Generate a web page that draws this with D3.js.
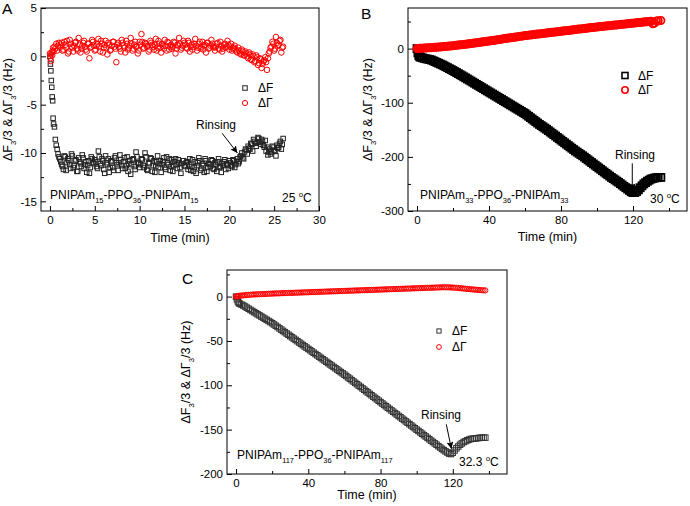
<!DOCTYPE html>
<html><head><meta charset="utf-8">
<script src="https://cdn.jsdelivr.net/npm/d3@7"></script>
<style>
body{margin:0;background:#fff}
svg{display:block}
text{font-family:"Liberation Sans",Arial,Helvetica,sans-serif;fill:#000}
</style>
</head><body>
<svg id="chart" width="690" height="506"></svg>
<script>
// ---------------- DATA ----------------
// Panel A: PNIPAm15-PPO36-PNIPAm15, 25 °C  (two interleaved sampling sets)
const aTime = [0,0.05,0.1,0.15,0.2,0.25,0.3,0.35,0.4,0.5,0.6,0.7,0.8,0.9,1.0,
 1.2,1.4,1.6,1.8,2,2.2,2.4,2.6,2.8,3,3.2,3.4,3.6,3.8,4,4.2,4.4,4.6,4.8,5,
 5.2,5.4,5.6,5.8,6,6.2,6.4,6.6,6.8,7,7.2,7.4,7.6,7.8,8,8.2,8.4,8.6,8.8,9,9.2,9.4,9.6,9.8,10,
 10.2,10.4,10.6,10.8,11,11.2,11.4,11.6,11.8,12,12.2,12.4,12.6,12.8,13,13.2,13.4,13.6,13.8,14,14.2,14.4,14.6,14.8,15,
 15.2,15.4,15.6,15.8,16,16.2,16.4,16.6,16.8,17,17.2,17.4,17.6,17.8,18,18.2,18.4,18.6,18.8,19,19.2,19.4,19.6,19.8,20,
 20.2,20.4,20.6,20.8,21,21.2,21.4,21.6,21.8,22,
 22.2,22.4,22.6,22.8,23,23.2,23.4,23.6,23.8,24,
 24.2,24.4,24.6,24.8,25,25.2,25.4,25.6,25.8,26];
const aF = [0,-0.8,-1.5,-2.5,-3.2,-4.2,-4.6,-6.4,-7.0,-7.3,-8.6,-9.2,-9.6,-10.1,-10.4,
 -10.9,-11.4,-10.3,-11.8,-10.6,-11.2,-10.1,-11.5,-10.8,-11.9,-10.5,-11.1,-10.2,-11.6,-10.9,-11.3,-12.1,-10.4,-11.0,-10.7,
 -11.4,-9.8,-11.1,-10.6,-11.7,-10.3,-11.2,-12.0,-10.8,-11.5,-10.5,-11.0,-11.8,-10.2,-11.3,-10.9,-11.6,-10.4,-11.1,-12.2,-10.7,-11.4,-9.9,-11.0,-11.5,
 -10.6,-11.3,-10.0,-11.7,-11.0,-10.5,-11.9,-10.8,-11.4,-10.3,-11.1,-12.0,-10.9,-11.5,-10.4,-11.2,-11.8,-10.7,-11.3,-10.6,-11.6,-11.0,-12.1,-10.8,-11.3,
 -11.0,-11.7,-10.6,-11.4,-11.9,-10.9,-11.3,-10.5,-11.8,-11.1,-12.0,-10.8,-11.5,-11.2,-10.7,-11.6,-11.0,-11.9,-10.6,-11.4,-11.1,-10.9,-11.7,-11.2,-10.8,
 -11.3,-10.7,-11.5,-10.9,-11.1,-10.4,-10.0,-10.6,-9.6,-10.1,
 -9.5,-9.0,-9.8,-8.8,-9.3,-8.4,-8.9,-8.6,-9.2,-8.7,
 -9.4,-9.9,-10.1,-9.3,-9.7,-10.3,-9.5,-9.0,-9.6,-8.5];
const aG = [0.3,-0.2,-0.5,0.2,0.4,0.1,0.6,0.9,0.5,1.0,0.8,1.3,0.6,1.1,1.4,
 1.2,0.6,1.5,0.9,0.3,1.7,1.0,0.5,1.4,0.8,1.9,0.4,1.1,1.6,0.7,1.3,-0.2,1.0,1.5,0.6,
 1.1,1.8,0.5,1.3,0.9,1.6,0.2,1.2,0.7,1.5,1.0,-0.6,1.4,0.8,1.7,1.1,0.4,1.3,0.9,1.9,0.6,1.2,1.0,0.3,1.5,
 2.3,0.8,1.4,1.0,0.5,1.6,1.2,0.7,1.8,0.9,1.3,0.4,1.1,1.7,0.6,1.4,1.0,0.8,1.5,0.3,1.2,1.9,0.7,1.1,1.4,
 0.9,1.6,0.5,1.2,1.0,1.8,0.6,1.3,0.8,1.5,1.1,0.4,1.4,0.9,1.7,1.0,0.6,1.3,0.8,1.5,0.5,1.2,0.9,1.6,0.7,
 1.3,0.8,1.1,0.5,0.9,0.3,0.7,0.1,0.5,0.0,
 0.4,-0.3,0.2,-0.6,0.1,-0.9,-0.2,-1.2,-0.5,-0.1,
 -1.4,0.3,0.9,1.5,0.6,2.0,1.1,1.6,0.4,1.0];
const aTime2 = [1.1,1.3,1.5,1.7,1.9,2.1,2.3,2.5,2.7,2.9,3.1,3.3,3.5,3.7,3.9,4.1,4.3,4.5,4.7,4.9,
 5.1,5.3,5.5,5.7,5.9,6.1,6.3,6.5,6.7,6.9,7.1,7.3,7.5,7.7,7.9,8.1,8.3,8.5,8.7,8.9,9.1,9.3,9.5,9.7,9.9,
 10.1,10.3,10.5,10.7,10.9,11.1,11.3,11.5,11.7,11.9,12.1,12.3,12.5,12.7,12.9,13.1,13.3,13.5,13.7,13.9,14.1,14.3,14.5,14.7,14.9,
 15.1,15.3,15.5,15.7,15.9,16.1,16.3,16.5,16.7,16.9,17.1,17.3,17.5,17.7,17.9,18.1,18.3,18.5,18.7,18.9,19.1,19.3,19.5,19.7,19.9,
 20.1,20.3,20.5,20.7,20.9,21.1,21.3,21.5,21.7,21.9,
 22.1,22.3,22.5,22.7,22.9,23.1,23.3,23.5,23.7,23.9,
 24.1,24.3,24.5,24.7,24.9,25.1,25.3,25.5,25.7,25.9];
const aF2 = [-10.6,-11.2,-11.7,-10.4,-11.0,-10.8,-11.6,-10.3,-11.3,-10.7,-11.9,-10.9,-11.4,-10.5,-11.2,-12.0,-10.8,-11.5,-10.6,-11.1,
 -10.9,-11.6,-10.4,-11.3,-10.8,-12.1,-11.0,-10.6,-11.5,-10.9,-11.8,-10.3,-11.2,-11.0,-10.7,-11.6,-10.5,-11.3,-11.9,-10.8,-11.2,-10.6,-11.7,-10.4,-11.1,
 -11.2,-10.7,-11.5,-10.4,-11.8,-11.1,-10.6,-11.3,-12.0,-10.9,-11.5,-10.8,-11.2,-10.5,-11.7,-11.0,-10.6,-11.4,-11.9,-10.9,-11.2,-10.7,-11.5,-11.1,-10.8,
 -11.4,-10.9,-11.2,-11.8,-10.7,-11.5,-12.1,-11.0,-10.8,-11.6,-11.3,-10.6,-11.9,-11.1,-11.4,-10.8,-11.7,-11.2,-10.9,-11.5,-12.0,-11.3,-10.7,-11.1,-11.6,
 -11.0,-11.4,-10.8,-11.2,-10.6,-10.9,-10.3,-10.5,-9.9,-9.7,
 -9.3,-9.6,-9.1,-8.6,-9.0,-8.9,-8.5,-9.1,-8.8,-9.4,
 -9.8,-10.2,-9.6,-9.9,-9.4,-9.8,-9.2,-9.4,-8.8,-9.1];
const aG2 = [0.9,1.4,0.7,1.2,1.6,0.5,1.3,0.9,1.1,1.5,0.6,1.2,0.8,1.4,1.0,0.5,1.3,0.9,1.7,1.1,
 0.7,1.3,1.0,1.6,0.4,1.2,0.9,1.4,0.6,1.1,1.5,0.8,1.2,1.0,0.5,1.4,0.9,1.6,0.7,1.1,1.3,0.8,1.5,1.0,0.6,
 1.2,1.5,0.9,1.3,1.1,0.7,1.4,1.0,1.2,0.6,1.6,0.9,1.3,0.8,1.1,1.5,0.7,1.2,1.0,1.4,0.8,1.1,1.3,0.9,1.6,
 1.2,0.8,1.4,1.0,0.7,1.3,1.1,0.9,1.5,1.0,0.7,1.2,1.4,0.8,1.1,1.3,0.9,1.0,1.4,0.7,1.1,0.8,1.3,1.0,1.2,
 1.0,0.6,0.9,0.7,0.4,0.6,0.2,0.5,0.1,0.3,
 -0.2,0.2,-0.4,0.0,-0.5,-0.1,-0.7,-0.3,-0.8,-0.4,
 -0.6,-0.2,0.5,1.0,1.3,0.8,1.4,1.2,1.7,0.9];
const aXMajor = [0,5,10,15,20,25,30];
const aXMinor = [2.5,7.5,12.5,17.5,22.5,27.5];
const aYMajor = [-15,-10,-5,0,5];
const aYMinor = [-12.5,-7.5,-2.5,2.5];

// Panel B: PNIPAm33-PPO36-PNIPAm33, 30 °C
const bTime = [0,0.5,1,1.5,2,3,4,6,8,10,12,14,16,18,20,22,24,26,28,30,32,34,36,38,40,
 42,44,46,48,50,52,54,56,58,60,62,64,66,68,70,72,74,76,78,80,82,84,86,88,90,92,94,96,98,100,
 102,104,106,108,110,112,114,116,118,120,122,124,126,128,130,132,134,135.5];
const bF = [0,-8,-13,-15,-16,-17,-18,-19.5,-21,-24,-27,-30,-33.5,-37,-40.5,
 -44.3,-48.2,-52.1,-56,-60,-64,-68,-72,-76,-80,
 -84,-88,-92,-96,-100,-104,-108,-112,-116,-120,
 -125,-130,-135,-140,-144.5,-149,-154,-159,-164,-169,
 -174,-179,-184,-189,-193.5,-198,-203,-208,-213,-218,
 -223,-228,-233,-238,-242.5,-247,-252,-257,-262,-266,
 -264,-257,-250,-245,-241,-239,-238,-238];
const bG = [0,0.2,0.4,0.5,0.6,0.8,1,1.4,1.8,2.3,2.8,3.4,4,4.7,5.4,
 6.1,6.9,7.7,8.5,9.4,10.3,11.2,12.1,13,14,
 15,16,17,18,19,20,21,22,23,24,
 24.8,25.6,26.4,27.2,28,28.8,29.6,30.4,31.2,32,
 32.8,33.6,34.4,35.2,36,36.8,37.6,38.4,39.2,40,
 40.7,41.4,42.1,42.8,43.5,44.2,44.9,45.6,46.3,47,
 47.7,48.4,49.1,49.8,50.5,47,51.5,52];
const bTime2 = [5,7,9,11,13,15,17,19,21,23,25,27,29,31,33,35,37,39,41,43,45,47,49,51,53,55,57,59,
 61,63,65,67,69,71,73,75,77,79,81,83,85,87,89,91,93,95,97,99,101,103,105,107,109,111,113,115,117,119,
 121,123,125,127,129,131,133];
const bF2 = [-18.8,-20.2,-22.5,-25.5,-28.5,-31.7,-35.2,-38.7,
 -42.4,-46.2,-50.1,-54,-58,-62,-66,-70,-74,-78,
 -82,-86,-90,-94,-98,-102,-106,-110,-114,-118,
 -122.5,-127.5,-132.5,-137.5,-142.2,-146.8,-151.5,-156.5,-161.5,-166.5,
 -171.5,-176.5,-181.5,-186.5,-191.2,-195.8,-200.5,-205.5,-210.5,-215.5,
 -220.5,-225.5,-230.5,-235.5,-240.2,-244.8,-249.5,-254.5,-259.5,-264.5,
 -266,-261,-253.5,-247.5,-243,-240,-238.5];
const bG2 = [1.2,1.6,2,2.5,3.1,3.7,4.3,5,
 5.7,6.5,7.3,8.1,9,9.8,10.7,11.6,12.5,13.5,
 14.5,15.5,16.5,17.5,18.5,19.5,20.5,21.5,22.5,23.5,
 24.4,25.2,26,26.8,27.6,28.4,29.2,30,30.8,31.6,
 32.4,33.2,34,34.8,35.6,36.4,37.2,38,38.8,39.6,
 40.3,41,41.7,42.4,43.1,43.8,44.5,45.2,45.9,46.6,
 47.3,48,48.7,49.4,50.1,46,51.2];
const bXMajor = [0,40,80,120];
const bXMinor = [20,60,100,140];
const bYMajor = [-300,-200,-100,0];
const bYMinor = [-250,-150,-50,50];

// Panel C: PNIPAm117-PPO36-PNIPAm117, 32.3 °C
const cTime = [0,0.5,1,1.5,2,3,4,6,8,10,12,14,16,18,20,22,24,26,28,30,32,34,36,38,40,
 42,44,46,48,50,52,54,56,58,60,62,64,66,68,70,72,74,76,78,80,82,84,86,88,90,92,94,96,98,100,
 102,104,106,108,110,112,114,116,118,120,122,124,126,128,130,132,134,136,138];
const cF = [0,-3,-5.5,-7,-8,-9,-10,-12.5,-15,-17.5,-20,-22.5,-25,-27.5,-30,
 -32.9,-35.8,-38.7,-41.6,-44.5,-47.4,-50.3,-53.2,-56.1,-59,
 -61.9,-64.8,-67.7,-70.6,-73.5,-76.4,-79.3,-82.2,-85.1,-88,
 -91.1,-94.2,-97.3,-100.4,-103.5,-106.6,-109.7,-112.8,-115.9,-119,
 -122.1,-125.2,-128.3,-131.4,-134.5,-137.6,-140.7,-143.8,-146.9,-150,
 -153.1,-156.2,-159.3,-162.4,-165.5,-168.6,-171.7,-174.5,-177,-176,
 -171,-167,-164,-162,-160.5,-160,-159.5,-159,-159];
const cG = [0,0.3,0.6,0.8,1,1.2,1.4,1.8,2.1,2.4,2.6,2.8,3,3.2,3.4,
 3.6,3.7,3.9,4,4.2,4.3,4.5,4.6,4.8,4.9,
 5.1,5.2,5.4,5.5,5.7,5.8,6,6.1,6.3,6.4,
 6.6,6.7,6.9,7,7.2,7.3,7.5,7.6,7.8,7.9,
 8.1,8.2,8.4,8.5,8.7,8.8,9,9.1,9.3,9.4,
 9.6,9.7,9.9,10,10.2,10.3,10.5,10.5,10.4,10.2,
 9.9,9.5,9.1,8.7,8.3,7.9,7.5,7.2,7];
const cTime2 = [5,7,9,11,13,15,17,19,21,23,25,27,29,31,33,35,37,39,41,43,45,47,49,51,53,55,57,59,
 61,63,65,67,69,71,73,75,77,79,81,83,85,87,89,91,93,95,97,99,101,103,105,107,109,111,113,115,117,119,
 121,123,125,127,129,131,133,135,137];
const cF2 = [-11.2,-13.7,-16.2,-18.7,-21.2,-23.7,-26.2,-28.7,
 -31.4,-34.3,-37.2,-40.1,-43,-45.9,-48.8,-51.7,-54.6,-57.5,
 -60.4,-63.3,-66.2,-69.1,-72,-74.9,-77.8,-80.7,-83.6,-86.5,
 -89.5,-92.6,-95.7,-98.8,-101.9,-105,-108.1,-111.2,-114.3,-117.4,
 -120.5,-123.6,-126.7,-129.8,-132.9,-136,-139.1,-142.2,-145.3,-148.4,
 -151.5,-154.6,-157.7,-160.8,-163.9,-167,-170.1,-173.1,-175.8,-177.5,
 -173.5,-169,-165.5,-163,-161.2,-160.2,-159.7,-159.2,-159];
const cG2 = [1.6,2,2.3,2.5,2.7,2.9,3.1,3.3,
 3.5,3.65,3.8,3.95,4.1,4.25,4.4,4.55,4.7,4.85,
 5,5.15,5.3,5.45,5.6,5.75,5.9,6.05,6.2,6.35,
 6.5,6.65,6.8,6.95,7.1,7.25,7.4,7.55,7.7,7.85,
 8,8.15,8.3,8.45,8.6,8.75,8.9,9.05,9.2,9.35,
 9.5,9.65,9.8,9.95,10.1,10.25,10.4,10.5,10.45,10.3,
 10.05,9.7,9.3,8.9,8.5,8.1,7.7,7.35,7.1];
const cXMajor = [0,40,80,120];
const cXMinor = [20,60,100,140];
const cYMajor = [-200,-150,-100,-50,0];
const cYMinor = [-175,-125,-75,-25,25];

const legendLabels = ["\u0394F","\u0394\u0393"];

// ---------------- DRAWING ----------------
const svg = d3.select("#chart");
svg.append("rect").attr("width",690).attr("height",506).attr("fill","#fff");
const defs = svg.append("defs");
defs.append("marker").attr("id","arr").attr("viewBox","0 0 10 10")
  .attr("refX",10).attr("refY",5).attr("markerWidth",7).attr("markerHeight",7)
  .attr("markerUnits","userSpaceOnUse").attr("orient","auto")
  .append("path").attr("d","M0,0 L10,5 L0,10 L2,5 z").attr("fill","#000");

const FONT = '"Liberation Sans",Arial,Helvetica,sans-serif';

function rich(g, x, y, parts, size, opts={}) {
  const t = g.append("text").attr("x",x).attr("y",y).attr("font-size",size)
    .attr("font-family",FONT);
  if (opts.rotate) t.attr("transform",`rotate(-90,${x},${y})`).attr("text-anchor","middle");
  let shift = 0;
  parts.forEach(p => {
    const [txt, kind] = p;
    const ts = t.append("tspan").text(txt);
    let target = 0, fs = size;
    if (kind === "sub") { target = size*0.3; fs = size*0.62; }
    if (kind === "sup") { target = -size*0.42; fs = size*0.65; }
    ts.attr("dy", target - shift).attr("font-size", fs);
    shift = target;
  });
  return t;
}

const yTitleParts = [["\u0394F"],["3","sub"],["/3 & \u0394\u0393"],["3","sub"],["/3 (Hz)"]];

const panels = [
  {letter:"A", time:aTime.concat(aTime2), F:aF.concat(aF2), G:aG.concat(aG2), xDomain:[-1,30], yDomain:[-16,5],
   box:{l:41,r:319,t:8,b:211}, xMajor:aXMajor, xMinor:aXMinor, yMajor:aYMajor, yMinor:aYMinor,
   sq:4.5, cr:2.8, sw:1, fColor:"#222",
   letterPos:[2,13.5], yTitleX:12, xTitleY:242,
   legend:{x:245, y1:88, y2:103, sq:4.5, cr:2.6},
   rinsing:{tx:196, ty:129, from:[19.2,-7.96], to:[20.9,-10.0]},
   polymer:{x:50, y:199, n1:"15", n2:"15"}, temp:{x:282, y:202, v:"25 "}},
  {letter:"B", time:bTime.concat(bTime2), F:bF.concat(bF2), G:bG.concat(bG2), xDomain:[-5,150], yDomain:[-300,75],
   box:{l:408,r:687,t:8,b:211}, xMajor:bXMajor, xMinor:bXMinor, yMajor:bYMajor, yMinor:bYMinor,
   sq:7, cr:3.6, sw:1.8, fColor:"#000",
   letterPos:[361,18.5], yTitleX:372, xTitleY:241,
   legend:{x:625, y1:75.5, y2:90, sq:6, cr:3.2, sw:1.6},
   rinsing:{tx:615, ty:159, from:[119.6,-212], to:[119.6,-262]},
   polymer:{x:420, y:199, n1:"33", n2:"33"}, temp:{x:650, y:203, v:"30 "}},
  {letter:"C", time:cTime.concat(cTime2), F:cF.concat(cF2), G:cG.concat(cG2), xDomain:[-5,150], yDomain:[-200,30],
   box:{l:227,r:507,t:270,b:474}, xMajor:cXMajor, xMinor:cXMinor, yMajor:cYMajor, yMinor:cYMinor,
   sq:5.5, cr:2.6, sw:1, fColor:"#333",
   letterPos:[182,283.5], yTitleX:190, xTitleY:499,
   legend:{x:439, y1:331, y2:347, sq:4.2, cr:2.4},
   rinsing:{tx:421, ty:419, from:[116.4,-144], to:[119.2,-171.5]},
   polymer:{x:237, y:459, n1:"117", n2:"117"}, temp:{x:459, y:466, v:"32.3 "}}
];

panels.forEach(p => {
  const g = svg.append("g");
  const x = d3.scaleLinear().domain(p.xDomain).range([p.box.l, p.box.r]);
  const y = d3.scaleLinear().domain(p.yDomain).range([p.box.b, p.box.t]);

  g.append("rect").attr("x",p.box.l).attr("y",p.box.t)
    .attr("width",p.box.r-p.box.l).attr("height",p.box.b-p.box.t)
    .attr("fill","none").attr("stroke","#000").attr("stroke-width",1);

  const styleAxis = a => {
    a.select(".domain").remove();
    a.selectAll("text").attr("font-size",11.5).attr("font-family",FONT).attr("fill","#000");
    a.selectAll("line").attr("stroke","#000");
  };
  g.append("g").attr("transform",`translate(0,${p.box.b})`)
    .call(d3.axisBottom(x).tickValues(p.xMajor).tickSize(-5).tickPadding(5).tickFormat(d=>String(d)))
    .call(styleAxis);
  g.append("g").attr("transform",`translate(0,${p.box.b})`)
    .call(d3.axisBottom(x).tickValues(p.xMinor).tickSize(-3).tickFormat(""))
    .call(styleAxis);
  g.append("g").attr("transform",`translate(${p.box.l},0)`)
    .call(d3.axisLeft(y).tickValues(p.yMajor).tickSize(-5).tickPadding(4).tickFormat(d=>String(d)))
    .call(styleAxis);
  g.append("g").attr("transform",`translate(${p.box.l},0)`)
    .call(d3.axisLeft(y).tickValues(p.yMinor).tickSize(-3).tickFormat(""))
    .call(styleAxis);

  const ptsF = p.time.map((t,i)=>[t,p.F[i]]).sort((a,b)=>a[0]-b[0]);
  const ptsG = p.time.map((t,i)=>[t,p.G[i]]).sort((a,b)=>a[0]-b[0]);
  g.append("g").selectAll("rect").data(ptsF).join("rect")
    .attr("x",d=>x(d[0])-p.sq/2).attr("y",d=>y(d[1])-p.sq/2)
    .attr("width",p.sq).attr("height",p.sq)
    .attr("fill","none").attr("stroke",p.fColor).attr("stroke-width",p.sw);
  g.append("g").selectAll("circle").data(ptsG).join("circle")
    .attr("cx",d=>x(d[0])).attr("cy",d=>y(d[1])).attr("r",p.cr)
    .attr("fill","none").attr("stroke","#ff0000").attr("stroke-width",p.sw);

  const L = p.legend, lsw = L.sw || 1;
  g.append("rect").attr("x",L.x-L.sq/2).attr("y",L.y1-L.sq/2).attr("width",L.sq).attr("height",L.sq)
    .attr("fill","none").attr("stroke",p.fColor).attr("stroke-width",lsw);
  g.append("circle").attr("cx",L.x).attr("cy",L.y2).attr("r",L.cr)
    .attr("fill","none").attr("stroke","#ff0000").attr("stroke-width",lsw);
  g.append("text").attr("x",L.x+13).attr("y",L.y1+4.3).attr("font-size",12).text(legendLabels[0]);
  g.append("text").attr("x",L.x+13).attr("y",L.y2+4.3).attr("font-size",12).text(legendLabels[1]);

  g.append("text").attr("x",p.rinsing.tx).attr("y",p.rinsing.ty).attr("font-size",12).text("Rinsing");
  g.append("line").attr("x1",x(p.rinsing.from[0])).attr("y1",y(p.rinsing.from[1]))
    .attr("x2",x(p.rinsing.to[0])).attr("y2",y(p.rinsing.to[1]))
    .attr("stroke","#000").attr("stroke-width",1).attr("marker-end","url(#arr)");

  rich(g, p.polymer.x, p.polymer.y,
    [["PNIPAm"],[p.polymer.n1,"sub"],["-PPO"],["36","sub"],["-PNIPAm"],[p.polymer.n2,"sub"]], 12);
  rich(g, p.temp.x, p.temp.y, [[p.temp.v],["o","sup"],["C"]], 12);

  g.append("text").attr("x",p.letterPos[0]).attr("y",p.letterPos[1]).attr("font-size",15.5).text(p.letter);

  g.append("text").attr("x",(p.box.l+p.box.r)/2).attr("y",p.xTitleY)
    .attr("text-anchor","middle").attr("font-size",12.5).text("Time (min)");
  rich(g, p.yTitleX, (p.box.t+p.box.b)/2, yTitleParts, 12.5, {rotate:true});
});
</script>
</body></html>
